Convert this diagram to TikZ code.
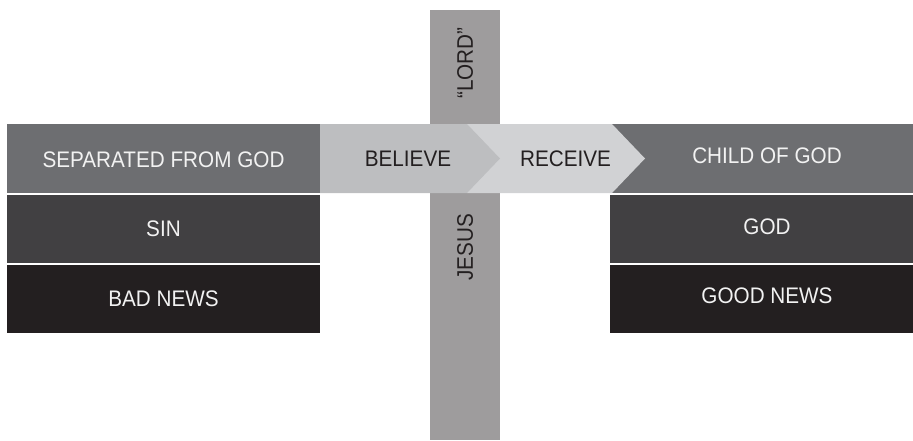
\documentclass[tikz,border=0pt]{standalone}
\usepackage{fontspec}
\setmainfont{Liberation Sans}
\newfontfamily\narrowsans[FakeStretch=0.92]{Liberation Sans}
\definecolor{bandgray}{HTML}{6D6E71}
\definecolor{midgray}{HTML}{414042}
\definecolor{nearblack}{HTML}{231F20}
\definecolor{believegray}{HTML}{BDBEC0}
\definecolor{receivegray}{HTML}{D1D2D4}
\definecolor{crossgray}{HTML}{9E9C9D}
\definecolor{lighttext}{HTML}{F2F2F2}
\tikzset{
  lbl/.style={font=\narrowsans\fontsize{22.5}{26}\selectfont, inner sep=0pt, anchor=center},
  wlbl/.style={lbl, text=lighttext},
  dlbl/.style={lbl, text=nearblack},
}
\begin{document}
\begin{tikzpicture}[x=1pt,y=-1pt]
\useasboundingbox (0,0) rectangle (913,440);
% cross bar
\fill[crossgray] (430,10) rectangle (500,440);
% left column
\fill[bandgray] (7,124) rectangle (320,193);
\fill[midgray] (7,195) rectangle (320,263);
\fill[nearblack] (7,265) rectangle (320,333);
% right column
\fill[bandgray] (610,124) rectangle (913,193);
\fill[midgray] (610,195) rectangle (913,263);
\fill[nearblack] (610,265) rectangle (913,333);
% arrows
\fill[receivegray] (467,124) -- (612,124) -- (645,158.5) -- (612,193) -- (467,193) -- cycle;
\fill[believegray] (320,124) -- (467,124) -- (500,158.5) -- (467,193) -- (320,193) -- cycle;
% labels
\node[wlbl] (sep) at (163.5,159.5) {SEPARATED FROM GOD};
\node[wlbl] (sin) at (163.5,228.5) {SIN};
\node[wlbl] (bad) at (163.5,299) {BAD NEWS};
\node[wlbl] (child) at (767,156) {CHILD OF GOD};
\node[wlbl] (god) at (767,226.5) {GOD};
\node[wlbl] (good) at (767,295.5) {GOOD NEWS};
\node[dlbl] (believe) at (408,159) {BELIEVE};
\node[dlbl] (receive) at (565.5,159) {RECEIVE};
\node[dlbl, rotate=90] (lord) at (465,63) {“LORD”};
\node[dlbl, rotate=90] (jesus) at (465,247.5) {JESUS};
\end{tikzpicture}
\end{document}
